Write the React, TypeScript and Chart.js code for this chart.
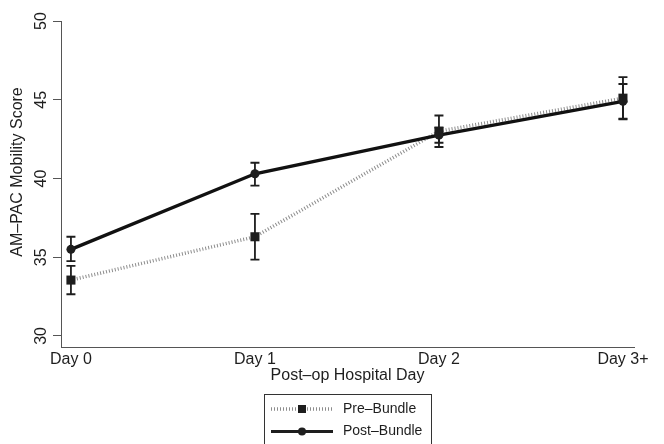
import React, { useEffect, useRef } from 'react';
import { Chart, registerables } from 'chart.js';

Chart.register(...registerables);

const categories = ['Day 0', 'Day 1', 'Day 2', 'Day 3+'];
const seriesNames = ['Pre–Bundle', 'Post–Bundle'];
const preMean = [33.55, 36.3, 43.0, 45.1];
const preLow = [32.65, 34.85, 42.0, 43.75];
const preHigh = [34.45, 37.75, 44.0, 46.43];
const postMean = [35.5, 40.3, 42.75, 44.9];
const postLow = [34.75, 39.55, 42.27, 43.8];
const postHigh = [36.3, 41.0, 43.23, 46.0];
const yTicks = [30, 35, 40, 45, 50];
const xTitle = 'Post–op Hospital Day';
const yTitle = 'AM–PAC Mobility Score';

const FONT = '"Liberation Sans", Arial, Helvetica, sans-serif';
const INK = '#1e1e1e';
const PRE_LINE = '#8c8c8c';

const errorBarPlugin = {
  id: 'errorBars',
  afterDatasetsDraw(chart: any) {
    const { ctx, scales } = chart;
    const x = scales.x;
    const y = scales.y;
    ctx.save();
    ctx.strokeStyle = INK;
    ctx.lineWidth = 1.8;
    const draw = (lo: number[], hi: number[]) => {
      lo.forEach((l, i) => {
        const px = x.getPixelForValue(i);
        const p1 = y.getPixelForValue(l);
        const p2 = y.getPixelForValue(hi[i]);
        ctx.beginPath();
        ctx.moveTo(px, p1);
        ctx.lineTo(px, p2);
        ctx.moveTo(px - 4.5, p1);
        ctx.lineTo(px + 4.5, p1);
        ctx.moveTo(px - 4.5, p2);
        ctx.lineTo(px + 4.5, p2);
        ctx.stroke();
      });
    };
    draw(preLow, preHigh);
    draw(postLow, postHigh);
    ctx.restore();
  },
};

const annotationPlugin = {
  id: 'titlesLegend',
  afterDraw(chart: any) {
    const { ctx, chartArea } = chart;
    ctx.save();
    ctx.fillStyle = INK;
    ctx.font = `16px ${FONT}`;
    ctx.textAlign = 'center';
    ctx.textBaseline = 'middle';
    const cx = (chartArea.left + chartArea.right) / 2;
    ctx.fillText(xTitle, cx, 376);
    ctx.save();
    ctx.translate(18, 172);
    ctx.rotate(-Math.PI / 2);
    ctx.fillText(yTitle, 0, 0);
    ctx.restore();

    // legend box
    const bx = 264.5;
    const bw = 167;
    ctx.strokeStyle = '#333';
    ctx.lineWidth = 1;
    ctx.strokeRect(bx, 394.5, bw, 70);

    const symL = 271;
    const symR = 333;
    const symC = 302;
    const rows = [409, 431.5];
    // pre
    ctx.save();
    ctx.strokeStyle = PRE_LINE;
    ctx.lineWidth = 3.5;
    ctx.setLineDash([1, 2]);
    ctx.beginPath();
    ctx.moveTo(symL, rows[0]);
    ctx.lineTo(symR, rows[0]);
    ctx.stroke();
    ctx.restore();
    ctx.fillStyle = INK;
    ctx.fillRect(symC - 4, rows[0] - 4, 8, 8);
    // post
    ctx.strokeStyle = INK;
    ctx.lineWidth = 3;
    ctx.beginPath();
    ctx.moveTo(symL, rows[1]);
    ctx.lineTo(symR, rows[1]);
    ctx.stroke();
    ctx.beginPath();
    ctx.arc(symC, rows[1], 4, 0, Math.PI * 2);
    ctx.fill();

    ctx.font = `14px ${FONT}`;
    ctx.textAlign = 'left';
    ctx.fillText(seriesNames[0], 343, rows[0]);
    ctx.fillText(seriesNames[1], 343, rows[1]);
    ctx.restore();
  },
};

export default function App() {
  const ref = useRef<HTMLCanvasElement>(null);
  useEffect(() => {
    if (!ref.current) return;
    const chart = new Chart(ref.current, {
      type: 'line',
      data: {
        datasets: [
          {
            label: seriesNames[0],
            data: preMean.map((v, i) => ({ x: i, y: v })),
            borderColor: PRE_LINE,
            borderWidth: 3.5,
            borderDash: [1, 2],
            pointStyle: 'rect',
            pointRadius: 6.4,
            pointBackgroundColor: INK,
            pointBorderColor: INK,
            pointBorderWidth: 0,
            tension: 0,
            order: 2,
          },
          {
            label: seriesNames[1],
            data: postMean.map((v, i) => ({ x: i, y: v })),
            borderColor: '#111',
            borderWidth: 3.3,
            pointStyle: 'circle',
            pointRadius: 4.5,
            pointBackgroundColor: INK,
            pointBorderColor: INK,
            pointBorderWidth: 0,
            tension: 0,
            order: 1,
          },
        ],
      },
      options: {
        animation: false,
        responsive: false,
        devicePixelRatio: 1,
        layout: { padding: { top: 21, right: 30, left: 0, bottom: 0 } },
        plugins: { legend: { display: false }, tooltip: { enabled: false } },
        scales: {
          x: {
            type: 'linear',
            min: -0.054,
            max: 3.06,
            afterBuildTicks: (s: any) => {
              s.ticks = categories.map((_, i) => ({ value: i }));
            },
            afterFit: (s: any) => {
              s.height = 97;
            },
            ticks: {
              callback: (v: any) => categories[v as number],
              font: { family: FONT, size: 16 },
              color: INK,
              maxRotation: 0,
              minRotation: 0,
              autoSkip: false,
              padding: 3,
            },
            grid: { display: true, drawOnChartArea: false, drawTicks: false },
            border: { display: true, color: '#555', width: 1 },
          },
          y: {
            type: 'linear',
            min: 29.3,
            max: 50,
            afterBuildTicks: (s: any) => {
              s.ticks = yTicks.map((v) => ({ value: v }));
            },
            afterFit: (s: any) => {
              s.width = 61;
            },
            ticks: {
              font: { family: FONT, size: 16 },
              color: INK,
              minRotation: 90,
              maxRotation: 90,
              crossAlign: 'center',
              padding: 3,
            },
            grid: { display: true, drawOnChartArea: false, drawTicks: true, tickLength: 8, color: '#555' },
            border: { display: true, color: '#555', width: 1 },
          },
        },
      },
      plugins: [errorBarPlugin, annotationPlugin],
    } as any);
    return () => chart.destroy();
  }, []);
  return (
    <div style={{ position: 'absolute', left: 0, top: 0, width: 664, height: 444, background: '#fff' }}>
      <canvas ref={ref} width={664} height={444} style={{ display: 'block' }} />
    </div>
  );
}
